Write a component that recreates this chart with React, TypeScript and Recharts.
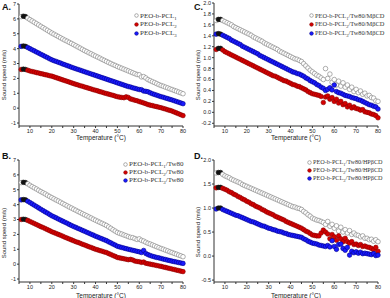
import { ScatterChart, Scatter, XAxis, YAxis } from 'recharts'

// temperature (°C), one reading per degree
const TEMPS = [
  6, 7, 8, 9, 10, 11, 12, 13, 14, 15, 16, 17, 18, 19, 20, 21, 22, 23, 24, 25,
  26, 27, 28, 29, 30, 31, 32, 33, 34, 35, 36, 37, 38, 39, 40, 41, 42, 43, 44, 45,
  46, 47, 48, 49, 50, 51, 52, 53, 54, 55, 56, 57, 58, 59, 60, 61, 62, 63, 64, 65,
  66, 67, 68, 69, 70, 71, 72, 73, 74, 75, 76, 77, 78, 79, 80,
]
const X_TICKS = [5, 10, 15, 20, 25, 30, 35, 40, 45, 50, 55, 60, 65, 70, 75, 80]

// A. PEO-b-PCL
const A_PCL1 = [
  6.15, 6.18, 6.15, 6.05, 5.95, 5.86, 5.77, 5.68, 5.59, 5.5, 5.41, 5.32, 5.23, 5.14, 5.05, 4.97, 4.89, 4.81, 4.73, 4.65,
  4.57, 4.5, 4.42, 4.35, 4.27, 4.19, 4.11, 4.03, 3.95, 3.87, 3.8, 3.72, 3.65, 3.57, 3.5, 3.43, 3.36, 3.28, 3.21, 3.14,
  3.07, 3.0, 2.93, 2.87, 2.8, 2.74, 2.68, 2.62, 2.56, 2.5, 2.44, 2.38, 2.32, 2.26, 2.24, 2.1, 2.12, 2.03, 1.92, 1.85,
  1.78, 1.72, 1.65, 1.58, 1.52, 1.47, 1.41, 1.36, 1.3, 1.25, 1.19, 1.14, 1.08, 1.03, 0.97,
]
const A_PCL2 = [
  2.6, 2.62, 2.6, 2.55, 2.5, 2.46, 2.43, 2.39, 2.36, 2.32, 2.29, 2.25, 2.22, 2.18, 2.15, 2.1, 2.05, 2.0, 1.95, 1.9,
  1.85, 1.8, 1.75, 1.7, 1.65, 1.6, 1.56, 1.51, 1.47, 1.42, 1.38, 1.33, 1.29, 1.24, 1.2, 1.16, 1.11, 1.07, 1.02, 0.98,
  0.94, 0.9, 0.86, 0.81, 0.77, 0.74, 0.72, 0.7, 0.76, 0.72, 0.62, 0.58, 0.53, 0.5, 0.44, 0.4, 0.35, 0.3, 0.24, 0.2,
  0.17, 0.13, 0.1, 0.06, 0.03, -0.02, -0.06, -0.11, -0.15, -0.2, -0.26, -0.32, -0.38, -0.44, -0.5,
]
const A_PCL3 = [
  4.15, 4.18, 4.15, 4.08, 4.0, 3.92, 3.85, 3.77, 3.7, 3.62, 3.55, 3.47, 3.4, 3.32, 3.25, 3.19, 3.14, 3.08, 3.03, 2.97,
  2.92, 2.86, 2.81, 2.75, 2.7, 2.65, 2.6, 2.55, 2.5, 2.45, 2.4, 2.35, 2.3, 2.25, 2.2, 2.15, 2.1, 2.05, 2.0, 1.95,
  1.9, 1.85, 1.8, 1.75, 1.7, 1.65, 1.6, 1.55, 1.5, 1.45, 1.42, 1.37, 1.33, 1.29, 1.25, 1.24, 1.15, 1.13, 1.1, 1.03,
  0.97, 0.92, 0.87, 0.82, 0.77, 0.73, 0.68, 0.64, 0.59, 0.55, 0.5, 0.45, 0.4, 0.35, 0.3,
]

// B. PEO-b-PCL/Tw80
const B_PCL1 = [
  5.48, 5.5, 5.48, 5.4, 5.3, 5.21, 5.13, 5.05, 4.96, 4.88, 4.8, 4.72, 4.63, 4.55, 4.47, 4.39, 4.31, 4.24, 4.16, 4.08,
  4.0, 3.92, 3.84, 3.77, 3.69, 3.62, 3.54, 3.47, 3.39, 3.32, 3.25, 3.17, 3.1, 3.02, 2.95, 2.88, 2.81, 2.74, 2.67, 2.6,
  2.5, 2.41, 2.31, 2.22, 2.13, 2.07, 2.02, 1.96, 1.91, 1.85, 1.8, 1.78, 1.72, 1.66, 1.7, 1.6, 1.55, 1.47, 1.4, 1.35,
  1.29, 1.23, 1.17, 1.11, 1.05, 1.0, 0.94, 0.89, 0.83, 0.78, 0.72, 0.67, 0.61, 0.56, 0.5,
]
const B_PCL2 = [
  3.0, 3.02, 3.0, 2.94, 2.87, 2.8, 2.73, 2.66, 2.59, 2.52, 2.46, 2.39, 2.32, 2.25, 2.18, 2.12, 2.06, 2.0, 1.94, 1.88,
  1.81, 1.75, 1.69, 1.63, 1.57, 1.51, 1.46, 1.4, 1.34, 1.29, 1.23, 1.17, 1.12, 1.06, 1.0, 0.96, 0.91, 0.87, 0.82, 0.78,
  0.71, 0.65, 0.58, 0.52, 0.45, 0.42, 0.39, 0.36, 0.33, 0.3, 0.32, 0.28, 0.21, 0.18, 0.16, 0.12, 0.14, 0.06, 0.03, 0.0,
  -0.03, -0.06, -0.09, -0.12, -0.15, -0.19, -0.22, -0.26, -0.29, -0.33, -0.36, -0.4, -0.43, -0.47, -0.5,
]
const B_PCL3 = [
  4.32, 4.34, 4.32, 4.23, 4.14, 4.05, 3.96, 3.87, 3.78, 3.69, 3.6, 3.51, 3.43, 3.34, 3.25, 3.18, 3.11, 3.03, 2.96, 2.89,
  2.82, 2.75, 2.67, 2.6, 2.53, 2.47, 2.4, 2.34, 2.27, 2.21, 2.14, 2.08, 2.01, 1.95, 1.88, 1.82, 1.76, 1.7, 1.64, 1.58,
  1.5, 1.43, 1.35, 1.28, 1.2, 1.16, 1.12, 1.08, 1.04, 1.0, 0.97, 0.93, 0.9, 0.86, 0.83, 0.78, 0.92, 0.72, 0.64, 0.58,
  0.53, 0.49, 0.45, 0.42, 0.38, 0.34, 0.31, 0.27, 0.24, 0.2, 0.17, 0.14, 0.11, 0.08, 0.05,
]

// C. PEO-b-PCL/Tw80/MβCD
const C_PCL1 = [
  1.68, 1.7, 1.7, 1.68, 1.66, 1.64, 1.62, 1.6, 1.57, 1.55, 1.53, 1.51, 1.49, 1.47, 1.45, 1.43, 1.41, 1.38, 1.36, 1.34,
  1.32, 1.3, 1.27, 1.25, 1.23, 1.21, 1.19, 1.17, 1.15, 1.12, 1.1, 1.08, 1.06, 1.04, 1.02, 1.0, 0.98, 0.97, 0.95, 0.93,
  0.89, 0.85, 0.81, 0.77, 0.74, 0.71, 0.68, 0.66, 0.63, 0.6, 0.8, 0.62, 0.7, 0.55, 0.6, 0.5, 0.57, 0.48, 0.54, 0.46,
  0.5, 0.42, 0.46, 0.38, 0.42, 0.36, 0.39, 0.33, 0.35, 0.3, 0.31, 0.27, 0.26, 0.21, 0.2,
]
const C_PCL2 = [
  1.15, 1.17, 1.17, 1.14, 1.11, 1.09, 1.07, 1.05, 1.03, 1.01, 0.99, 0.97, 0.95, 0.93, 0.91, 0.89, 0.87, 0.85, 0.83, 0.81,
  0.79, 0.77, 0.75, 0.73, 0.71, 0.69, 0.67, 0.66, 0.64, 0.62, 0.6, 0.58, 0.57, 0.55, 0.53, 0.51, 0.5, 0.48, 0.47, 0.45,
  0.43, 0.41, 0.38, 0.36, 0.34, 0.33, 0.32, 0.31, 0.29, 0.18, 0.28, 0.3, 0.24, 0.27, 0.2, 0.24, 0.17, 0.2, 0.14, 0.16,
  0.1, 0.13, 0.08, 0.1, 0.07, 0.06, 0.04, 0.05, 0.01, 0.0, -0.01, -0.03, -0.04, -0.06, -0.1,
]
const C_PCL3 = [
  1.43, 1.44, 1.43, 1.41, 1.39, 1.37, 1.35, 1.32, 1.3, 1.28, 1.26, 1.24, 1.21, 1.19, 1.17, 1.15, 1.13, 1.11, 1.09, 1.07,
  1.04, 1.02, 1.0, 0.98, 0.96, 0.94, 0.92, 0.9, 0.88, 0.86, 0.84, 0.82, 0.8, 0.78, 0.76, 0.74, 0.73, 0.71, 0.7, 0.68,
  0.66, 0.63, 0.61, 0.58, 0.56, 0.54, 0.51, 0.49, 0.46, 0.44, 0.4, 0.42, 0.45, 0.41, 0.5, 0.38, 0.36, 0.35, 0.33, 0.31,
  0.3, 0.29, 0.27, 0.26, 0.25, 0.23, 0.22, 0.2, 0.18, 0.16, 0.14, 0.13, 0.11, 0.1, 0.06,
]

// D. PEO-b-PCL/Tw80/HPβCD
const D_PCL1 = [
  1.73, 1.74, 1.74, 1.7, 1.67, 1.65, 1.63, 1.6, 1.58, 1.56, 1.54, 1.52, 1.49, 1.47, 1.45, 1.43, 1.41, 1.39, 1.37, 1.35,
  1.33, 1.31, 1.29, 1.27, 1.25, 1.23, 1.21, 1.19, 1.17, 1.15, 1.13, 1.11, 1.09, 1.07, 1.05, 1.03, 1.02, 1.0, 0.99, 0.97,
  0.93, 0.9, 0.86, 0.83, 0.79, 0.77, 0.75, 0.74, 0.72, 0.7, 0.66, 0.72, 0.62, 0.66, 0.58, 0.63, 0.52, 0.6, 0.5, 0.55,
  0.48, 0.53, 0.45, 0.48, 0.44, 0.43, 0.4, 0.42, 0.37, 0.37, 0.34, 0.35, 0.31, 0.34, 0.3,
]
const D_PCL2 = [
  1.42, 1.43, 1.43, 1.41, 1.39, 1.37, 1.34, 1.32, 1.29, 1.27, 1.24, 1.22, 1.19, 1.17, 1.14, 1.12, 1.09, 1.07, 1.04, 1.02,
  1.0, 0.97, 0.95, 0.92, 0.9, 0.88, 0.86, 0.83, 0.81, 0.79, 0.77, 0.75, 0.72, 0.7, 0.68, 0.66, 0.64, 0.62, 0.6, 0.58,
  0.55, 0.52, 0.5, 0.47, 0.44, 0.43, 0.42, 0.42, 0.48, 0.54, 0.5, 0.46, 0.36, 0.45, 0.4, 0.33, 0.42, 0.36, 0.3, 0.37,
  0.3, 0.27, 0.3, 0.24, 0.25, 0.22, 0.24, 0.2, 0.21, 0.19, 0.18, 0.16, 0.13, 0.18, 0.1,
]
const D_PCL3 = [
  0.98, 1.0, 1.0, 0.97, 0.95, 0.93, 0.91, 0.89, 0.87, 0.85, 0.84, 0.82, 0.8, 0.78, 0.76, 0.74, 0.72, 0.71, 0.69, 0.67,
  0.65, 0.63, 0.62, 0.6, 0.58, 0.57, 0.55, 0.54, 0.52, 0.51, 0.5, 0.48, 0.47, 0.45, 0.44, 0.43, 0.42, 0.41, 0.4, 0.39,
  0.36, 0.34, 0.31, 0.29, 0.27, 0.26, 0.25, 0.23, 0.22, 0.21, 0.2, 0.22, 0.19, 0.32, 0.2, 0.14, 0.24, 0.25, 0.16, 0.12,
  0.18, 0.02, 0.1, 0.07, 0.09, 0.06, 0.08, 0.05, 0.06, 0.05, 0.04, 0.03, 0.05, 0.01, 0.02,
]

const SANS = '"Liberation Sans", Arial, sans-serif'
const SERIF = '"Liberation Serif", "Times New Roman", serif'
const INK = '#222'

const STYLES = [
  { fill: '#ffffff', stroke: '#7a7a7a' }, // 1: open circles
  { fill: '#d40000', stroke: '#8a0000' }, // 2: red
  { fill: '#1a1aff', stroke: '#00008c' }, // 3: blue
]

function toPoints(vals: number[]) {
  return TEMPS.map((t, i) => ({ t, v: vals[i] }))
}

function makeShape(fill: string, stroke: string) {
  return (p: any) => {
    const start = p.payload && (p.payload.t === 7 || p.payload.t === 8)
    return (
      <circle
        cx={p.cx}
        cy={p.cy}
        r={2.3}
        fill={start ? '#111' : fill}
        stroke={start ? '#111' : stroke}
        strokeWidth={0.6}
      />
    )
  }
}

function Sub({ n }: { n: string }) {
  return <span style={{ fontSize: '0.7em', verticalAlign: -1.5 }}>{n}</span>
}

function Panel({ left, top, letter, letterX, plotTop, plotBottom, yDomain, yTicks, fmt, series, suffix, legend, yTitleX, yTitleY, xTitleY }: any) {
  const bottomH = 149 - plotBottom
  return (
    <div style={{ position: 'absolute', left, top, width: 195, height: 149 }}>
      <ScatterChart width={195} height={149} margin={{ top: plotTop, right: 12, bottom: 0, left: 0 }}>
        <XAxis
          type="number"
          dataKey="t"
          domain={[5, 80]}
          ticks={X_TICKS}
          interval={0}
          tickFormatter={(v: number) => (v % 10 === 0 ? String(v) : '')}
          height={bottomH}
          tickSize={2}
          tickMargin={1}
          axisLine={{ stroke: '#333' }}
          tickLine={{ stroke: '#333' }}
          tick={{ fontSize: 5.5, fill: INK, fontFamily: SANS }}
        />
        <YAxis
          type="number"
          dataKey="v"
          domain={yDomain}
          ticks={yTicks}
          interval={0}
          allowDataOverflow
          tickFormatter={fmt}
          width={19}
          tickSize={2}
          tickMargin={1}
          axisLine={{ stroke: '#333' }}
          tickLine={{ stroke: '#333' }}
          tick={{ fontSize: 5.5, fill: INK, fontFamily: SANS }}
        />
        {series.map((vals: number[], i: number) => (
          <Scatter
            key={i}
            data={toPoints(vals)}
            isAnimationActive={false}
            shape={makeShape(STYLES[i].fill, STYLES[i].stroke)}
          />
        ))}
      </ScatterChart>
      <div style={{ position: 'absolute', left: letterX, top: 2, fontFamily: SANS, fontWeight: 700, fontSize: 9, color: '#111' }}>
        {letter}
      </div>
      <div
        style={{
          position: 'absolute', left: yTitleX, top: yTitleY, transform: 'translate(-50%, -50%) rotate(-90deg)',
          whiteSpace: 'nowrap', fontFamily: SANS, fontSize: 6, color: INK,
        }}
      >
        Sound speed (m/s)
      </div>
      <div
        style={{
          position: 'absolute', left: 101, top: xTitleY, transform: 'translate(-50%, -50%)',
          whiteSpace: 'nowrap', fontFamily: SANS, fontSize: 6.5, color: INK,
        }}
      >
        Temperature (°C)
      </div>
      <div style={{ position: 'absolute', left: legend.x, top: legend.y, fontFamily: SERIF, fontSize: legend.size, color: '#333' }}>
        {['1', '2', '3'].map((n, i) => (
          <div key={n} style={{ display: 'flex', alignItems: 'center', height: legend.gap, whiteSpace: 'nowrap' }}>
            <svg width={5} height={5} style={{ marginRight: 1 }}>
              <circle cx={2.5} cy={2.5} r={1.8} fill={STYLES[i].fill} stroke={STYLES[i].stroke} strokeWidth={0.6} />
            </svg>
            <span>
              PEO-b-PCL<Sub n={n} />{suffix}
            </span>
          </div>
        ))}
      </div>
    </div>
  )
}

const intFmt = (v: number) => String(v)
const decFmt = (v: number) => v.toFixed(1)

export default function App() {
  return (
    <div style={{ position: 'absolute', left: 0, top: 0, width: 390, height: 298, background: '#fff', overflow: 'hidden' }}>
      <Panel
        left={0} top={0} letter="A." letterX={2} plotTop={4} plotBottom={126}
        yDomain={[-1.2, 7]} yTicks={[-1, 0, 1, 2, 3, 4, 5, 6, 7]} fmt={intFmt}
        series={[A_PCL1, A_PCL2, A_PCL3]} suffix=""
        legend={{ x: 134, y: 11.5, gap: 8.7, size: 7 }} yTitleX={4} yTitleY={75} xTitleY={137}
      />
      <Panel
        left={195} top={0} letter="C." letterX={-1} plotTop={3} plotBottom={126}
        yDomain={[-0.25, 2.0]} yTicks={[-0.2, 0, 0.2, 0.4, 0.6, 0.8, 1.0, 1.2, 1.4, 1.6, 1.8, 2.0]} fmt={decFmt}
        series={[C_PCL1, C_PCL2, C_PCL3]} suffix="/Tw80/MβCD"
        legend={{ x: 114, y: 11.5, gap: 8.7, size: 6.4 }} yTitleX={3} yTitleY={75} xTitleY={137}
      />
      <Panel
        left={0} top={149} letter="B." letterX={2} plotTop={11} plotBottom={133}
        yDomain={[-1.2, 7]} yTicks={[-1, 0, 1, 2, 3, 4, 5, 6, 7]} fmt={intFmt}
        series={[B_PCL1, B_PCL2, B_PCL3]} suffix="/Tw80"
        legend={{ x: 123, y: 11, gap: 8, size: 7 }} yTitleX={4} yTitleY={84} xTitleY={146}
      />
      <Panel
        left={195} top={149} letter="D." letterX={-1} plotTop={11} plotBottom={133}
        yDomain={[-0.54, 2.0]} yTicks={[-0.5, 0, 0.5, 1.0, 1.5, 2.0]} fmt={decFmt}
        series={[D_PCL1, D_PCL2, D_PCL3]} suffix="/Tw80/HPβCD"
        legend={{ x: 112, y: 9.5, gap: 8, size: 6.2 }} yTitleX={3} yTitleY={83} xTitleY={146}
      />
    </div>
  )
}
